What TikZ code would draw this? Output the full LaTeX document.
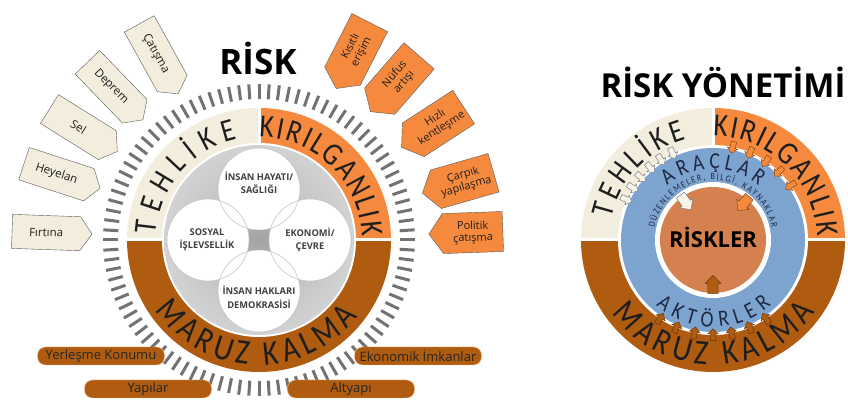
\documentclass[tikz,border=0pt]{standalone}
\usepackage{fontspec}
\setmainfont{Open Sans}
\newfontfamily\bandfont[FakeStretch=0.85]{Carlito}
\usetikzlibrary{shapes.symbols,shapes.arrows,decorations.text}
\definecolor{beige}{HTML}{F2EDDC}
\definecolor{rorange}{HTML}{F58A3F}
\definecolor{rbrown}{HTML}{AF5B10}
\definecolor{rblue}{HTML}{7DA4CF}
\definecolor{terra}{HTML}{D5814F}
\definecolor{navy}{HTML}{1E2A44}
\definecolor{tickgray}{HTML}{727272}
\definecolor{ink}{HTML}{1E1E1E}
\pgfdeclareradialshading{core}{\pgfpointorigin}{color(0bp)=(gray!72); color(16bp)=(gray!45); color(50bp)=(gray!8)}
\pgfdeclareradialshading{petal}{\pgfpointorigin}{color(0bp)=(white); color(38bp)=(white); color(50bp)=(gray!25)}

\begin{document}
\begin{tikzpicture}[x=1pt,y=1pt,
  hazard/.style={signal,signal to=east,signal pointer angle=110,draw=black!65,fill=beige,
    minimum width=80,minimum height=34,inner sep=2pt,text=ink,font=\fontsize{11.5}{13}\selectfont},
  vuln/.style={signal,signal to=west,signal pointer angle=110,draw=black!65,fill=rorange,
    minimum width=74,minimum height=40,inner sep=2pt,align=center,text=ink,font=\fontsize{11}{12}\selectfont},
  bar/.style={draw=rorange!55,fill=rbrown,rounded corners=8,minimum width=127,minimum height=18,
    inner sep=0,text=black!85,font=\fontsize{13}{13}\selectfont},
  petaltxt/.style={align=center,text=black!75,font=\fontsize{9.3}{13.5}\selectfont\bfseries},
  tick/.style={tickgray,line width=3},
  gap/.style={white,line width=3},
  harr/.style={single arrow,draw=black!50,fill=beige!60,minimum height=12,minimum width=10,
    single arrow head extend=2.5,inner sep=2.5,line width=.5},
  oarr/.style={harr,draw=rbrown!80!black,fill=rorange},
  barr/.style={harr,draw=rbrown!60!black,fill=rbrown},
  along/.style={decorate,decoration={text along path,text align={fit to path},text={#1}}},
  band/.style={along={|\bandfont\fontsize{32}{32}\selectfont\color{ink}|#1}},
  bigband/.style={along={|\bandfont\fontsize{35}{35}\selectfont\color{ink}|#1}},
  blueword/.style={along={|\bandfont\fontsize{23}{23}\selectfont\color{navy}|#1}},
  tinyword/.style={along={|\bandfont\fontsize{9.5}{9.5}\selectfont\color{navy}|#1}},
]
  \useasboundingbox (0,0) rectangle (848,403);
  \fill[white] (0,0) rectangle (848,403);
  \coordinate (lc) at (259,163);
  \coordinate (rc) at (713,163);

  % risk
  \node[font=\fontsize{35}{40}\selectfont\bfseries] (risk) at (258,345) {RİSK};
  \foreach \a in {0,3.75,...,356.25}
    \draw[tick] ([shift={(\a:141)}]lc) -- ([shift={(\a:156)}]lc);
  \fill[beige] (lc) -- ++(90:132) arc[start angle=90,end angle=180,radius=132] -- cycle;
  \fill[rorange] (lc) -- ++(0:132) arc[start angle=0,end angle=90,radius=132] -- cycle;
  \fill[rbrown] (lc) -- ++(180:132) arc[start angle=180,end angle=360,radius=132] -- cycle;
  \draw[gap] (lc) -- ++(0,134) (lc) ++(-134,0) -- ++(268,0);
  \fill[white] (lc) circle (97);
  \shade[shading=core] (lc) circle (95);
  \foreach \a in {90,180,0,270}
    \shade[shading=petal] ([shift={(\a:51)}]lc) circle (41);
  \foreach \a in {90,180,0,270}
    \draw[gray!45,line width=.6] ([shift={(\a:51)}]lc) circle (41);
  \foreach \a/\r/\t [count=\i] in {90/57/{İNSAN HAYATI/\\SAĞLIĞI},180/52/{SOSYAL\\İŞLEVSELLİK},0/51/{EKONOMİ/\\ÇEVRE},270/57/{İNSAN HAKLARI\\DEMOKRASİSİ}}
    \node[petaltxt] (pt\i) at ([shift={(\a:\r)}]lc) {\t};
  \path[band={TEHLİKE}] ([shift={(177:103)}]lc) arc[start angle=177,end angle=102,radius=103];
  \path[band={KIRILGANLIK}] ([shift={(90:103)}]lc) arc[start angle=90,end angle=2,radius=103];
  \path[bigband={MARUZ KALMA}] ([shift={(214:125)}]lc) arc[start angle=214,end angle=322,radius=125];
  \foreach \a/\t [count=\i] in {178/Fırtına,162/Heyelan,148/Sel,134/Deprem,119/Çatışma}
    \node[hazard,rotate=\a-180] (hz\i) at ([shift={(\a:213)}]lc) {\t};
  \foreach \a/\t [count=\i] in {63/{Kısıtlı\\erişim},49/{Nüfus\\artışı},33/{Hızlı\\kentleşme},16/{Çarpık\\yapılaşma},2/{Politik\\çatışma}}
    \node[vuln,rotate=\a] (vu\i) at ([shift={(\a:214)}]lc) {\t};
  \foreach \x/\y/\t [count=\i] in {101/47/Yerleşme Konumu,148/14/Yapılar,418/47/Ekonomik İmkanlar,351/14/Altyapı}
    \node[bar] (bar\i) at (\x,\y) {\t};

  % risk yonetimi
  \node[font=\fontsize{33}{36}\selectfont\bfseries] (rytitle) at (723,321) {RİSK YÖNETİMİ};
  \fill[beige] (rc) -- ++(90:132) arc[start angle=90,end angle=180,radius=132] -- cycle;
  \fill[rorange] (rc) -- ++(0:132) arc[start angle=0,end angle=90,radius=132] -- cycle;
  \fill[rbrown] (rc) -- ++(180:132) arc[start angle=180,end angle=360,radius=132] -- cycle;
  \draw[gap] (rc) -- ++(0,134) (rc) ++(-134,0) -- ++(268,0);
  \fill[white] (rc) circle (95);
  \fill[rblue] (rc) circle (92);
  \fill[white] (rc) circle (58);
  \fill[terra] (rc) circle (53);
  \node[font=\fontsize{22}{24}\selectfont\bfseries] (riskler) at ([yshift=3]rc) {RİSKLER};
  \path[band={TEHLİKE}] ([shift={(168:104)}]rc) arc[start angle=168,end angle=105,radius=104];
  \path[band={KIRILGANLIK}] ([shift={(90:104)}]rc) arc[start angle=90,end angle=2,radius=104];
  \path[bigband={MARUZ KALMA}] ([shift={(216:125)}]rc) arc[start angle=216,end angle=325,radius=125];
  \path[blueword={ARAÇLAR}] ([shift={(130:71)}]rc) arc[start angle=130,end angle=50,radius=71];
  \path[tinyword={DÜZENLEMELER, BİLGİ, KAYNAKLAR}] ([shift={(168:60)}]rc) arc[start angle=168,end angle=12,radius=60];
  \path[blueword={AKTÖRLER}] ([shift={(229:87)}]rc) arc[start angle=229,end angle=312,radius=87];
  \foreach \a [count=\i] in {115,123,131,139,147,155}
    \node[harr,rotate=\a+180] (ha\i) at ([shift={(\a:97)}]rc) {};
  \foreach \a [count=\i] in {78,67,56,46,35}
    \node[oarr,rotate=\a+180] (oa\i) at ([shift={(\a:96)}]rc) {};
  \foreach \a [count=\i] in {236,247.3,258.7,270,281.3,292.7,304}
    \node[barr,rotate=\a+180] (ba\i) at ([shift={(\a:96)}]rc) {};
  \node[harr,minimum height=18,minimum width=16,inner sep=4,rotate=306] (hbig) at ([shift={(126:49)}]rc) {};
  \node[oarr,minimum height=18,minimum width=16,inner sep=4,rotate=230] (obig) at ([shift={(50:50)}]rc) {};
  \node[barr,minimum height=18,minimum width=16,inner sep=4,rotate=90] (bbig) at ([shift={(270:47)}]rc) {};
\end{tikzpicture}
\end{document}
